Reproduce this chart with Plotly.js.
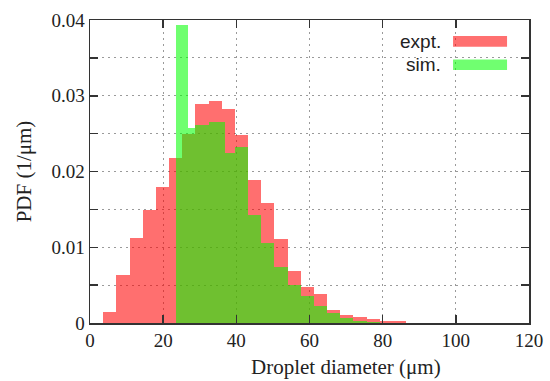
<!DOCTYPE html>
<html>
<head>
<meta charset="utf-8">
<script src="https://cdn.plot.ly/plotly-3.0.1.min.js"></script>
<style>html,body{margin:0;padding:0;background:#fff}#chart{width:550px;height:381px}</style>
</head>
<body>
<div id="chart"></div>
<script>
// Experimental histogram: bin edges (µm) and PDF values (1/µm)
var exptEdges = [3.6, 7.2, 10.8, 14.4, 18.0, 21.6, 25.2, 28.8, 32.4, 36.0, 39.6, 43.2, 46.8, 50.4, 54.0, 57.6, 61.2, 64.8, 68.4, 72.0, 75.6, 79.2, 82.8, 86.4];
var exptPdf = [0.0015, 0.0063, 0.0112, 0.0149, 0.0180, 0.0218, 0.0250, 0.0289, 0.0293, 0.0283, 0.0248, 0.0189, 0.0159, 0.0111, 0.0068, 0.0048, 0.0038, 0.0017, 0.0011, 0.0008, 0.0005, 0.0003, 0.0002];

// Simulation histogram
var simEdges = [23.4, 26.8, 28.8, 32.4, 36.8, 39.6, 43.2, 46.8, 50.4, 54.0, 57.6, 61.2, 64.8, 68.4, 72.0, 75.6, 79.2];
var simPdf = [0.0393, 0.0257, 0.0261, 0.0266, 0.0224, 0.0233, 0.0143, 0.0105, 0.0074, 0.0050, 0.0035, 0.0022, 0.0013, 0.0006, 0.0003, 0.0001];

var seriesNames = ['expt.', 'sim.'];
var xTickVals = [0, 20, 40, 60, 80, 100, 120];
var yTickVals = [0, 0.01, 0.02, 0.03, 0.04];
var yTickText = ['0', '0.01', '0.02', '0.03', '0.04'];

function centers(e){ var c=[]; for(var i=0;i<e.length-1;i++) c.push((e[i]+e[i+1])/2); return c; }
function widths(e){ var w=[]; for(var i=0;i<e.length-1;i++) w.push(e[i+1]-e[i]); return w; }

var redCol = 'rgb(255,0,0)';
var greenCol = 'rgb(0,255,0)';

var traces = [
  {type:'bar', x:centers(exptEdges), y:exptPdf, width:widths(exptEdges), name:seriesNames[0],
   marker:{color:redCol, line:{width:0}}, opacity:0.56, showlegend:false, hoverinfo:'x+y'},
  {type:'bar', x:centers(simEdges), y:simPdf, width:widths(simEdges), name:seriesNames[1],
   marker:{color:greenCol, line:{width:0}}, opacity:0.56, showlegend:false, hoverinfo:'x+y'}
];

var serif = 'Liberation Serif, Times New Roman, serif';
var sans = 'Liberation Sans, Arial, sans-serif';
var gridC = '#9a9a9a';

var layout = {
  width:550, height:381,
  margin:{l:90, r:21, t:20, b:58, pad:0},
  paper_bgcolor:'#fff', plot_bgcolor:'#fff',
  barmode:'overlay', bargap:0,
  font:{family:serif, size:19, color:'#222'},
  xaxis:{
    range:[0,120], tickvals:xTickVals, ticktext:xTickVals.map(String),
    showline:true, linecolor:'#333', linewidth:1.5, mirror:'ticks',
    ticks:'inside', ticklen:8, tickcolor:'#333', tickwidth:1.5,
    showgrid:true, gridcolor:gridC, griddash:'2px,4px', gridwidth:1,
    zeroline:false, tickfont:{family:serif, size:19, color:'#222'},
    title:{text:''}
  },
  yaxis:{
    range:[0,0.04], tickvals:yTickVals, ticktext:yTickText,
    showline:true, linecolor:'#333', linewidth:1.5, mirror:'ticks',
    ticks:'inside', ticklen:8, tickcolor:'#333', tickwidth:1.5,
    showgrid:true, gridcolor:gridC, griddash:'2px,4px', gridwidth:1,
    minor:{dtick:0.005, ticks:'inside', ticklen:8, tickcolor:'#333', tickwidth:1.5, showgrid:true, gridcolor:gridC, griddash:'2px,4px', gridwidth:1},
    zeroline:false, tickfont:{family:serif, size:19, color:'#222'},
    title:{text:'PDF (1/μm)', font:{family:serif, size:21, color:'#222'}, standoff:14}
  },
  annotations:[
    {xref:'paper', yref:'paper', x:0.583, y:-0.145, xanchor:'center', yanchor:'middle', showarrow:false,
     text:'Droplet diameter (μm)', font:{family:serif, size:21, color:'#222'}},
    {xref:'paper', yref:'paper', x:0.805, y:0.929, xanchor:'right', yanchor:'middle', showarrow:false,
     text:seriesNames[0], font:{family:sans, size:19, color:'#222'}},
    {xref:'paper', yref:'paper', x:0.805, y:0.853, xanchor:'right', yanchor:'middle', showarrow:false,
     text:seriesNames[1], font:{family:sans, size:19, color:'#222'}}
  ],
  shapes:[
    {type:'rect', xref:'paper', yref:'paper', x0:0.827, x1:0.950, y0:0.912, y1:0.947, fillcolor:redCol, opacity:0.56, line:{width:0}},
    {type:'rect', xref:'paper', yref:'paper', x0:0.827, x1:0.950, y0:0.835, y1:0.870, fillcolor:greenCol, opacity:0.56, line:{width:0}}
  ]
};

Plotly.newPlot('chart', traces, layout, {staticPlot:true, displayModeBar:false});
</script>
</body>
</html>
